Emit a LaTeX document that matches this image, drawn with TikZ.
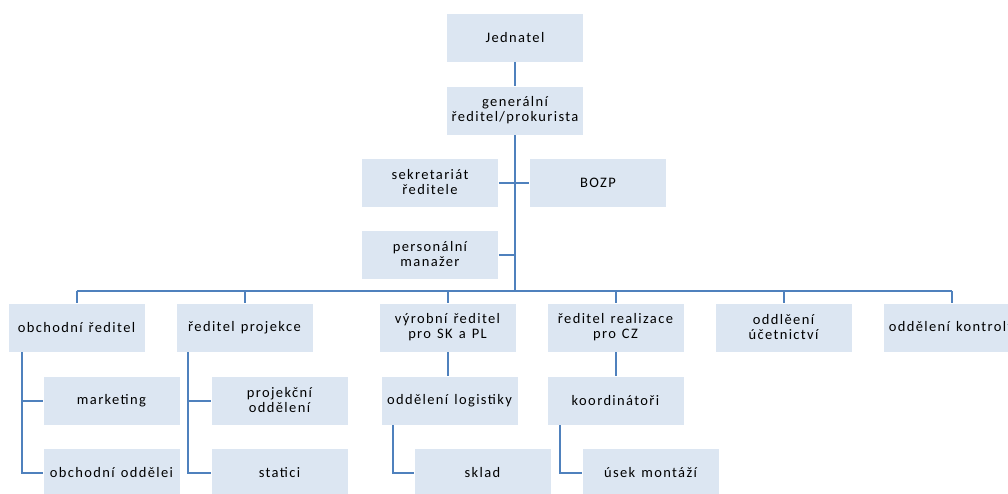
\documentclass[tikz,border=0pt]{standalone}
\usepackage{fontspec}
\setmainfont[LetterSpace=9.5,WordSpace=1.3]{Carlito}
\usetikzlibrary{positioning}
\definecolor{boxfill}{HTML}{DCE6F2}
\definecolor{linkblue}{HTML}{4F81BD}

\begin{document}
\begin{tikzpicture}[
      x=1pt, y=-1pt,
      font=\fontsize{14.5}{15}\selectfont,
      box/.style={fill=boxfill, draw=white, line width=0.8pt, align=center,
                  minimum width=137pt, minimum height=49pt, inner sep=2pt},
      link/.style={draw=linkblue, line width=2pt}
    ]
    \useasboundingbox (0,0) rectangle (1008,493);

    % vedeni
    \node[box] (jed) at (515,37.5) {Jednatel};
    \node[box] (gen) at (515,110.5) {generální\\ředitel/prokurista};
    \node[box] (sekr) at (430,182.5) {sekretariát\\ředitele};
    \node[box] (bozp) at (598,182.5) {BOZP};
    \node[box] (pers) at (430,254.5) {personální\\manažer};

    % druha uroven
    \node[box] (obch) at (76.5,327.5) {obchodní ředitel};
    \node[box] (proj) at (244.5,327.5) {ředitel projekce};
    \node[box] (vyr) at (447.5,327.5) {výrobní ředitel\\pro SK a PL};
    \node[box] (real) at (615.5,327.5) {ředitel realizace\\pro CZ};
    \node[box] (ucet) at (783.5,327.5) {oddlěení\\účetnictví};
    \node[box] (kont) at (951.5,327.5) {oddělení kontroly};

    % oddeleni
    \node[box] (mark) at (111.5,400.5) {marketing};
    \node[box] (obod) at (111.5,472.5) {obchodní oddělei};
    \node[box] (projo) at (279.5,400.5) {projekční\\oddělení};
    \node[box] (stat) at (279.5,472.5) {statici};
    \node[box] (logi) at (449.5,400.5) {oddělení logistiky};
    \node[box] (sklad) at (482.5,472.5) {sklad};
    \node[box] (koord) at (615.5,400.5) {koordinátoři};
    \node[box] (usek) at (650.5,472.5) {úsek montáží};

    \coordinate (bus) at (515,291);

    % kmen
    \draw[link] (jed) -- (gen);
    \draw[link] (gen) -- (bus);
    \draw[link] (sekr.east) -- (bozp.west);
    \draw[link] (pers.east) -- (pers.east -| bus);
    % sbernice
    \draw[link] (obch.north |- bus) -- (kont.north |- bus);
    \foreach \n in {obch, proj, vyr, real, ucet, kont}
      \draw[link] (\n.north) -- (\n.north |- bus);

    % podrizeni
    \draw[link] ([xshift=-54.5pt]obch.south) |- (obod.west);
    \draw[link] ([xshift=-54.5pt]obch.south |- mark.west) -- (mark.west);
    \draw[link] ([xshift=-56.5pt]proj.south) |- (stat.west);
    \draw[link] ([xshift=-56.5pt]proj.south |- projo.west) -- (projo.west);
    \draw[link] (vyr.south) -- (vyr.south |- logi.north);
    \draw[link] ([xshift=-56.5pt]logi.south) |- (sklad.west);
    \draw[link] (real) -- (koord);
    \draw[link] ([xshift=-55.5pt]koord.south) |- (usek.west);
  \end{tikzpicture}
\end{document}
